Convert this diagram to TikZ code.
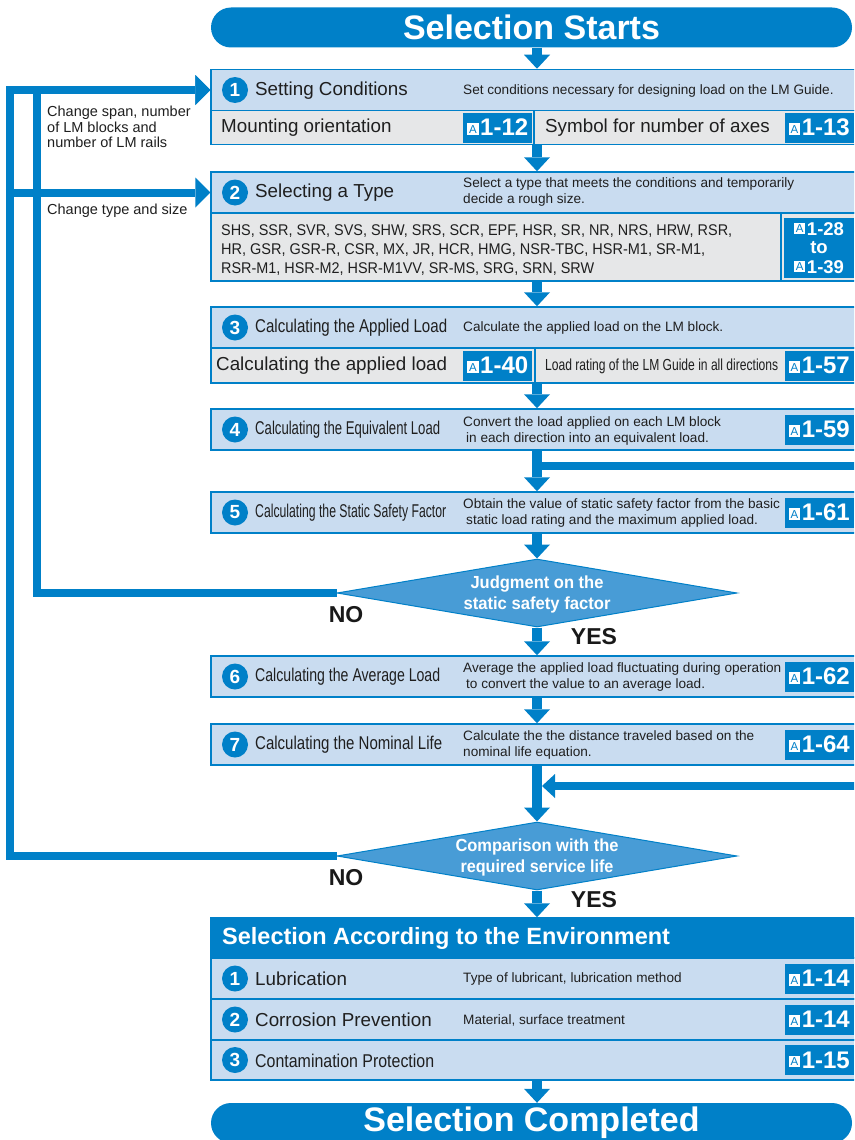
\documentclass[tikz,border=0pt]{standalone}
\usepackage{fontspec}
\setmainfont{Liberation Sans}
\usepackage{graphicx}
\usetikzlibrary{arrows.meta}
\usetikzlibrary{shapes.geometric}

\definecolor{thk}{RGB}{0,128,200}
\definecolor{pale}{RGB}{201,220,240}
\definecolor{grey}{RGB}{230,231,232}
\definecolor{dmdfill}{RGB}{72,156,214}

\newcommand{\fsz}[1]{\fontsize{#1}{#1}\selectfont}
\newcommand{\fitto}[2]{\resizebox{#1pt}{\height}{#2}}
\newcommand{\refA}{\raisebox{2.5pt}{\setlength{\fboxsep}{1pt}\colorbox{white}{\makebox[9.5pt]{\rule[-0.5pt]{0pt}{9.5pt}\textcolor{thk}{\fsz{11.5}\mdseries A}}}}}
\newcommand{\pgref}[1]{\refA\hspace{1.5pt}#1}

\begin{document}
\begin{tikzpicture}[x=1pt,y=-1pt,
    hdr/.style={rectangle,draw=thk,line width=1.5pt,fill=pale,minimum width=652pt,inner sep=0pt},
    sub/.style={hdr,fill=grey},
    pill/.style={rectangle,rounded corners=20pt,fill=thk,text=white,font=\bfseries\fsz{34},minimum width=641pt,minimum height=40pt,inner sep=0pt},
    num/.style={circle,fill=thk,text=white,font=\bfseries\fsz{19},minimum size=26pt,inner sep=0pt},
    ttl/.style={anchor=west,inner sep=0pt,font=\fsz{18.8},text=black!88},
    ttlc/.style={ttl,font=\fsz{18.5}},
    dsc/.style={anchor=west,inner sep=0pt,align=left,font=\fontsize{13.6}{15.5}\selectfont,text=black!88},
    lbl/.style={inner sep=0pt,align=left,font=\fontsize{14.5}{15.5}\selectfont,text=black!88},
    tag/.style={fill=thk,text=white,font=\bfseries\fsz{24},minimum width=69pt,minimum height=30pt,inner sep=0pt},
    tagline/.style={text=white,font=\bfseries\fsz{18.5},inner sep=0pt},
    divide/.style={draw=thk,line width=1.5pt},
    flow/.style={draw=thk,line width=10pt,-{Triangle[width=26pt,length=14pt,line width=0pt]}},
    back/.style={draw=thk,line width=8pt,-{Triangle[width=30pt,length=15pt,line width=0pt]}},
    side/.style={draw=thk,line width=8pt},
    sidein/.style={side,-{Triangle[width=24pt,length=13pt,line width=0pt]},shorten >=5pt},
    dmd/.style={diamond,draw=thk,line width=1pt,fill=dmdfill,minimum width=400pt,minimum height=68pt,inner sep=0pt},
    dtxt/.style={text=white,font=\bfseries\fontsize{17.5}{21}\selectfont,align=center,inner sep=0pt},
    ans/.style={font=\bfseries\fsz{23},text=black!90,inner sep=0pt}
  ]
  \useasboundingbox (0,0) rectangle (854,1140);
  \clip (0,0) rectangle (854,1140);
  \fill[white] (0,0) rectangle (854,1140);
  % Start.
  \node[pill] (start) at (531.5,27.5) {Selection Starts};
  % Step 1.
  \node[hdr,minimum height=41pt] (s1) at (537,90) {};
  \node[sub,minimum height=34pt] (s1b) at (537,127.5) {};
  \node[num] (n1) at (235,90) {1};
  \node[ttl] (t1) at (255,90.5) {Setting Conditions};
  \node[dsc] (d1) at (463,90.5) {Set conditions necessary for designing load on the LM Guide.};
  \node[ttl] (m1) at (221,127.5) {Mounting orientation};
  \node[tag,anchor=west] (p1) at (463,127.5) {\pgref{1-12}};
  \draw[divide] (534,110.5) -- (534,144.5);
  \node[ttl] (m2) at (545,127.5) {Symbol for number of axes};
  \node[tag,anchor=east] (p2) at (854,127.5) {\pgref{1-13}};
  % Step 2.
  \node[hdr,minimum height=41pt] (s2) at (537,192.5) {};
  \node[sub,minimum height=68pt] (s2b) at (537,247) {};
  \node[num] (n2) at (235,192.5) {2};
  \node[ttl] (t2) at (255,193) {Selecting a Type};
  \node[dsc] (d2) at (463,192) {Select a type that meets the conditions and temporarily\\decide a rough size.};
  \node[dsc,anchor=north west,font=\fontsize{15.5}{19}\selectfont] (l2) at (221,224) {\fitto{511}{SHS, SSR, SVR, SVS, SHW, SRS, SCR, EPF, HSR, SR, NR, NRS, HRW, RSR,}\\\fitto{484}{HR, GSR, GSR-R, CSR, MX, JR, HCR, HMG, NSR-TBC, HSR-M1, SR-M1,}\\\fitto{373}{RSR-M1, HSR-M2, HSR-M1VV, SR-MS, SRG, SRN, SRW}};
  \draw[divide] (781,213) -- (781,281);
  \node[tag,anchor=east,minimum width=70pt,minimum height=60pt] (p3) at (854,248) {};
  \node[tagline] (p3a) at (819,229) {\pgref{1-28}};
  \node[tagline] (p3b) at (819,248) {to};
  \node[tagline] (p3c) at (819,267) {\pgref{1-39}};
  % Step 3.
  \node[hdr,minimum height=41pt] (s3) at (537,327.5) {};
  \node[sub,minimum height=35pt] (s3b) at (537,365.5) {};
  \node[num] (n3) at (235,327.5) {3};
  \node[ttlc] (t3) at (255,328) {\fitto{192}{Calculating the Applied Load}};
  \node[dsc] (d3) at (463,328) {Calculate the applied load on the LM block.};
  \node[ttl] (m3) at (216,365.5) {Calculating the applied load};
  \node[tag,anchor=west] (p4) at (463,365.5) {\pgref{1-40}};
  \draw[divide] (535,348) -- (535,383);
  \node[ttl,font=\fsz{16}] (m4) at (545,366) {\fitto{233}{Load rating of the LM Guide in all directions}};
  \node[tag,anchor=east] (p5) at (854,365.5) {\pgref{1-57}};
  % Step 4.
  \node[hdr,minimum height=41pt] (s4) at (537,429.5) {};
  \node[num] (n4) at (235,429.5) {4};
  \node[ttlc] (t4) at (255,430) {\fitto{185}{Calculating the Equivalent Load}};
  \node[dsc] (d4) at (463,431) {Convert the load applied on each LM block\\\hspace{3pt}in each direction into an equivalent load.};
  \node[tag,anchor=east] (p6) at (854,429.5) {\pgref{1-59}};
  % Step 5.
  \node[hdr,minimum height=41pt] (s5) at (537,512.5) {};
  \node[num] (n5) at (235,512.5) {5};
  \node[ttlc] (t5) at (255,513) {\fitto{191}{Calculating the Static Safety Factor}};
  \node[dsc] (d5) at (463,513) {Obtain the value of static safety factor from the basic\\\hspace{3pt}static load rating and the maximum applied load.};
  \node[tag,anchor=east] (p7) at (854,512.5) {\pgref{1-61}};
  % Judgment.
  \node[dmd] (jdg) at (537,593) {};
  \node[dtxt] (jt) at (537,594) {\fitto{133}{Judgment on the}\\\fitto{147}{static safety factor}};
  \node[ans] (no1) at (346,615) {NO};
  \node[ans] (yes1) at (594,637) {YES};
  % Step 6.
  \node[hdr,minimum height=41pt] (s6) at (537,676.5) {};
  \node[num] (n6) at (235,676.5) {6};
  \node[ttlc] (t6) at (255,677) {\fitto{185}{Calculating the Average Load}};
  \node[dsc] (d6) at (463,677) {Average the applied load fluctuating during operation\\\hspace{3pt}to convert the value to an average load.};
  \node[tag,anchor=east] (p8) at (854,676.5) {\pgref{1-62}};
  % Step 7.
  \node[hdr,minimum height=41pt] (s7) at (537,744.5) {};
  \node[num] (n7) at (235,744.5) {7};
  \node[ttlc] (t7) at (255,745) {\fitto{187}{Calculating the Nominal Life}};
  \node[dsc] (d7) at (463,745) {Calculate the the distance traveled based on the\\nominal life equation.};
  \node[tag,anchor=east] (p9) at (854,744.5) {\pgref{1-64}};
  % Comparison.
  \node[dmd] (cmp) at (537,856) {};
  \node[dtxt] (ct) at (537,857) {\fitto{163}{Comparison with the}\\\fitto{153}{required service life}};
  \node[ans] (no2) at (346,878) {NO};
  \node[ans] (yes2) at (594,900) {YES};
  % Environment.
  \node[hdr,fill=thk,minimum height=40pt] (env) at (537,938) {};
  \node[anchor=west,inner sep=0pt,text=white,font=\bfseries\fsz{23.5}] (et) at (222,938.5) {Selection According to the Environment};
  \node[hdr,minimum height=41pt] (e1) at (537,978.5) {};
  \node[hdr,minimum height=41pt] (e2) at (537,1019.5) {};
  \node[hdr,minimum height=40pt] (e3) at (537,1060) {};
  \node[num] (en1) at (235,978.5) {1};
  \node[ttl] (et1) at (255,979) {Lubrication};
  \node[dsc] (ed1) at (463,979) {Type of lubricant, lubrication method};
  \node[tag,anchor=east] (ep1) at (854,978.5) {\pgref{1-14}};
  \node[num] (en2) at (235,1019.5) {2};
  \node[ttl] (et2) at (255,1020) {Corrosion Prevention};
  \node[dsc] (ed2) at (463,1020) {Material, surface treatment};
  \node[tag,anchor=east] (ep2) at (854,1019.5) {\pgref{1-14}};
  \node[num] (en3) at (235,1060) {3};
  \node[ttlc] (et3) at (255,1060.5) {\fitto{179}{Contamination Protection}};
  \node[tag,anchor=east] (ep3) at (854,1060) {\pgref{1-15}};
  % Completed.
  \node[pill] (done) at (531.5,1123) {Selection Completed};
  % Main flow.
  \draw[flow] (start.south -| s1.north) -- (s1.north);
  \draw[flow] (s1b.south) -- (s2.north);
  \draw[flow] (s2b.south) -- (s3.north);
  \draw[flow] (s3b.south) -- (s4.north);
  \draw[flow] (s4.south) -- (s5.north);
  \draw[flow] (s5.south) -- (jdg.north);
  \draw[flow] (jdg.south) -- (s6.north);
  \draw[flow] (s6.south) -- (s7.north);
  \draw[flow] (s7.south) -- (cmp.north);
  \draw[flow] (cmp.south) -- (env.north);
  \draw[flow] (e3.south) -- (done.north -| e3.south);
  % Side inputs.
  \coordinate (r1) at (863,466);
  \draw[side] (r1) -- (r1 -| s4.south);
  \coordinate (r2) at (863,786);
  \draw[sidein] (r2) -- (r2 -| s7.south);
  % Loops back.
  \draw[back] (jdg.west) -| ([xshift=-173.5pt]s1.west) -- (s1.west);
  \draw[back] (cmp.west) -| ([xshift=-200.5pt]s1.west) -- (s1.west);
  \draw[back] ([xshift=-204.5pt]s2.west) -- (s2.west);
  \node[lbl,anchor=north west] (c1) at (47,106) {Change span, number\\of LM blocks and\\number of LM rails};
  \node[lbl,anchor=west] (c2) at (47,211) {Change type and size};
\end{tikzpicture}
\end{document}
